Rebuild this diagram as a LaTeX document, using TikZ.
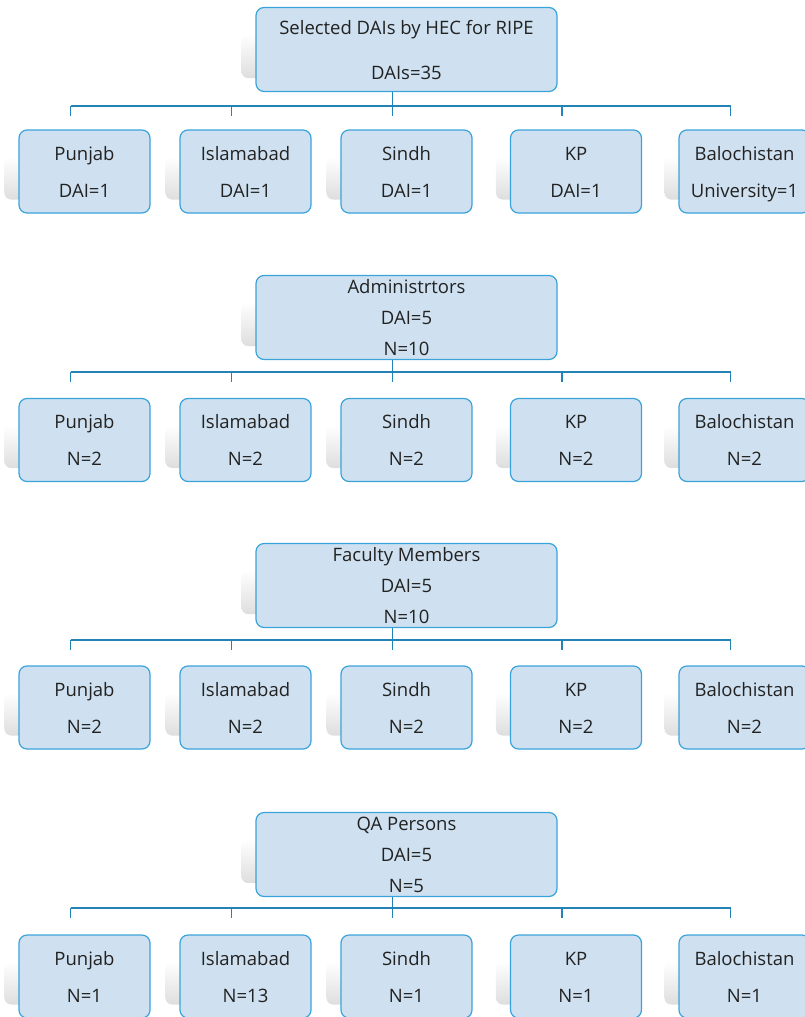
\documentclass[tikz,border=0pt]{standalone}
\usepackage{fontspec}
\setmainfont{Open Sans}
\usetikzlibrary{backgrounds}

\definecolor{boxfill}{HTML}{CFE1F0}
\definecolor{boxline}{HTML}{3AA3DA}
\definecolor{linkblue}{HTML}{2382B6}
\definecolor{textgray}{HTML}{222222}

% 每行统一高度, 文字略向下
\newcommand\eqln{\rule[-3pt]{0pt}{20pt}}

\tikzset{
  unit/.style={draw=boxline, fill=boxfill, rounded corners=8pt, line width=1.2pt,
    text=textgray, align=center, inner sep=0pt},
  head/.style={unit, minimum width=301pt, minimum height=84pt, font=\fontsize{18.5}{31}\selectfont},
  leaf/.style={unit, minimum width=131pt, minimum height=83pt, font=\fontsize{18.5}{37}\selectfont},
  link/.style={draw=linkblue, line width=1.2pt},
  ghost/.style={top color=white, bottom color=black!13, rounded corners=7pt},
}

\begin{document}
\begin{tikzpicture}[x=1pt, y=-1pt]
    \useasboundingbox (0,0) rectangle (804,1017);

    % 第一层: DAIs
    \node[head, font=\fontsize{18.5}{45}\selectfont] (p1) at (406.5,49.5) {\smash{Selected DAIs by HEC for RIPE}\eqln\\\smash{DAIs=35}\eqln};
    \coordinate (h1) at (0,106);
    \foreach \i/\nm/\val/\x in {1/Punjab/DAI=1/84.5, 2/Islamabad/DAI=1/245.5, 3/Sindh/DAI=1/406.5, 4/KP/DAI=1/576, 5/Balochistan/University=1/744.5}
        \node[leaf] (c1\i) at (\x,171.5) {\smash{\nm}\eqln\\\smash{\val}\eqln};

    % 第二层: Administrtors
    \node[head] (p2) at (406.5,317.5) {\smash{Administrtors}\eqln\\\smash{DAI=5}\eqln\\\smash{N=10}\eqln};
    \coordinate (h2) at (0,372);
    \foreach \i/\nm/\val/\x in {1/Punjab/N=2/84.5, 2/Islamabad/N=2/245.5, 3/Sindh/N=2/406.5, 4/KP/N=2/576, 5/Balochistan/N=2/744.5}
        \node[leaf] (c2\i) at (\x,440) {\smash{\nm}\eqln\\\smash{\val}\eqln};

    % 第三层: Faculty Members
    \node[head] (p3) at (406.5,585.5) {\smash{Faculty Members}\eqln\\\smash{DAI=5}\eqln\\\smash{N=10}\eqln};
    \coordinate (h3) at (0,640);
    \foreach \i/\nm/\val/\x in {1/Punjab/N=2/84.5, 2/Islamabad/N=2/245.5, 3/Sindh/N=2/406.5, 4/KP/N=2/576, 5/Balochistan/N=2/744.5}
        \node[leaf] (c3\i) at (\x,707.5) {\smash{\nm}\eqln\\\smash{\val}\eqln};

    % 第四层: QA Persons
    \node[head] (p4) at (406.5,854.5) {\smash{QA Persons}\eqln\\\smash{DAI=5}\eqln\\\smash{N=5}\eqln};
    \coordinate (h4) at (0,908);
    \foreach \i/\nm/\val/\x in {1/Punjab/N=1/84.5, 2/Islamabad/N=13/245.5, 3/Sindh/N=1/406.5, 4/KP/N=1/576, 5/Balochistan/N=1/744.5}
        \node[leaf] (c4\i) at (\x,976.5) {\smash{\nm}\eqln\\\smash{\val}\eqln};

    % 连线
    \foreach \r in {1,...,4} {
        \draw[link] ([xshift=-14pt]p\r.south) -- ([xshift=-14pt]p\r.south |- h\r);
        \draw[link] ([xshift=-14pt]c\r1.north |- h\r) -- ([xshift=-14pt]c\r5.north |- h\r);
        \foreach \i in {1,...,5}
            \draw[link] ([xshift=-14pt]c\r\i.north |- h\r) -- ++(0,10);
    }

    % 阴影
    \begin{scope}[on background layer]
        \foreach \r in {1,...,4} {
            \shade[ghost] ([xshift=-14pt,yshift=-27pt]p\r.north west) rectangle ([xshift=-14pt,yshift=14pt]p\r.south east);
            \foreach \i in {1,...,5}
                \shade[ghost] ([xshift=-14pt,yshift=-27pt]c\r\i.north west) rectangle ([xshift=-14pt,yshift=14pt]c\r\i.south east);
        }
    \end{scope}
\end{tikzpicture}
\end{document}
